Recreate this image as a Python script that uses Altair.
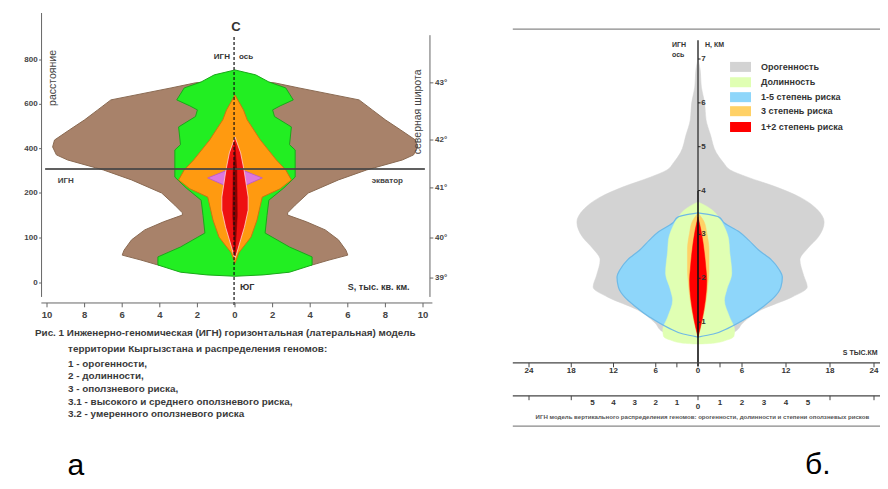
import altair as alt
import pandas as pd

FONT = "Liberation Sans"

# ---------------- Panel a: horizontal (lateral) model ----------------
# distance along axis (km) and half-width (thousand sq. km)
a_brown_d = [30, 33, 40, 51, 62, 73, 96, 118, 136, 151, 156, 173, 200, 259, 304, 349, 372, 408, 439, 485, 530, 575, 620, 647, 674, 697, 715]
a_brown_hw = [0, 3.0, 4.1, 5.0, 6.0, 5.9, 5.5, 4.8, 3.8, 2.8, 2.8, 3.2, 3.9, 5.5, 7.0, 8.9, 9.5, 9.7, 9.6, 8.8, 8.0, 7.3, 6.6, 5.0, 3.4, 2.1, 0]

a_green_d = [15, 18, 24, 40, 58, 80, 111, 150, 184, 223, 272, 394, 418, 498, 545, 575, 593, 620, 674, 701, 733, 755]
a_green_hw = [0, 1.5, 2.9, 4.1, 4.1, 2.9, 1.6, 1.7, 1.8, 2.6, 3.2, 3.2, 2.9, 3.0, 2.1, 2.0, 2.4, 3.1, 2.7, 1.8, 1.1, 0]

a_orange_d = [44, 67, 102, 140, 191, 219, 259, 304, 349, 439, 530, 575, 642]
a_orange_hw = [0, 0.2, 0.85, 1.17, 1.45, 2.4, 3.0, 2.7, 2.2, 1.35, 0.65, 0.45, 0]

a_pink_d = [214, 268, 317]
a_pink_hw = [0, 1.45, 0]

a_red_d = [56, 67, 96, 124, 162, 191, 304, 381, 453]
a_red_hw = [0, 0.1, 0.3, 0.5, 0.7, 0.7, 0.48, 0.3, 0]

a_core_d = [60, 150, 300, 420]
a_core_hw = [0, 0.12, 0.1, 0]

a_left_vals = [800, 600, 400, 200, 100, 0]
a_bottom_vals = [-10, -8, -6, -4, -2, 0, 2, 4, 6, 8, 10]
a_lat_labels = ["43°", "42°", "41°", "40°", "39°"]
a_lat_pos = [697, 439, 223, 100, 11]

a_caption = [
    "Рис. 1 Инженерно-геномическая (ИГН) горизонтальная (латеральная) модель",
    "территории Кыргызстана и распределения геномов:",
    "1  - орогенности,",
    "2 -  долинности,",
    "3 - оползневого риска,",
    "3.1 - высокого и среднего оползневого риска,",
    "3.2 - умеренного оползневого риска",
]
a_caption_x = [-10.64, -8.88, -8.88, -8.88, -8.88, -8.88, -8.88]
a_caption_y = [-111, -147, -180, -207, -236, -264, -291]

# ---------------- Panel b: vertical model ----------------
b_gray_h = [0.75, 0.78, 0.98, 1.28, 1.57, 1.80, 2.07, 2.42, 2.69, 2.94, 3.28, 3.56, 3.85, 4.08, 4.31, 4.47, 4.63, 4.86, 5.27, 5.61, 6.0, 6.36, 6.75, 7.0]
b_gray_hw = [0, 5.0, 6.1, 8.6, 12.8, 14.9, 14.4, 13.9, 15.0, 16.4, 17.2, 16.3, 13.9, 10.7, 6.7, 4.4, 3.5, 2.5, 1.7, 1.1, 0.9, 0.46, 0.3, 0]

b_green_h = [0.50, 0.52, 0.59, 0.68, 0.82, 1.12, 1.50, 1.73, 2.12, 2.64, 2.87, 3.17, 3.40, 3.56, 3.65, 3.74]
b_green_hw = [0, 2.1, 3.9, 4.9, 5.0, 4.3, 3.6, 3.9, 4.6, 4.3, 4.2, 3.6, 2.8, 1.9, 1.1, 0]

b_blue_h = [0.66, 0.73, 0.87, 1.12, 1.37, 1.57, 1.80, 2.03, 2.19, 2.42, 2.64, 2.87, 3.06, 3.26, 3.40, 3.44, 3.49]
b_blue_hw = [0, 2.1, 4.2, 6.9, 9.0, 10.4, 11.3, 11.5, 11.1, 10.0, 8.3, 6.9, 5.6, 3.6, 2.8, 1.9, 0]

b_orange_h = [0.66, 1.05, 1.50, 1.96, 2.19, 2.64, 3.03, 3.30, 3.49]
b_orange_hw = [0, 0.6, 1.1, 1.4, 1.5, 1.5, 1.2, 0.8, 0]

b_red_h = [0.66, 1.05, 1.50, 1.96, 2.19, 2.80, 3.10, 3.40]
b_red_hw = [0, 0.55, 1.0, 1.2, 1.1, 0.7, 0.4, 0]

b_legend = ["Орогенность", "Долинность", "1-5 степень риска", "3 степень риска", "1+2 степень риска"]
b_legend_colors = ["#d3d3d3", "#e0ffb3", "#8ed6fa", "#ffd166", "#ff0000"]
b_legend_h = [6.82, 6.47, 6.13, 5.81, 5.45]

b_h_ticks = [1, 2, 3, 4, 5, 6, 7]
b_s_ticks = [-24, -18, -12, -6, 0, 6, 12, 18, 24]
b_s_minor = [-3, 3]
b_r_labels = ["5", "4", "3", "2", "1", "0", "1", "2", "3", "4", "5"]
b_r_pos = [-15, -12, -9, -6, -3, 0, 3, 6, 9, 12, 15]
b_r_y = [-0.84] * 5 + [-0.93] + [-0.84] * 5
b_r_ticks = [-24, -18, 0, 18, 24]

# ---------------- scales ----------------
xA = alt.Scale(domain=[-10, 10], range=[39, 415], nice=False, zero=False)
yA = alt.Scale(domain=[0, 200, 800], range=[275, 185, 52], nice=False, zero=False)
xB = alt.Scale(domain=[-24, 0, 24], range=[521, 690, 866], nice=False, zero=False)
yB = alt.Scale(domain=[0, 7], range=[358, 51], nice=False, zero=False)


def sym(ys, hw):
    return pd.DataFrame({"y": ys, "lo": [-v for v in hw], "hi": hw})


def area(df, sx, sy, fill, stroke, interp="linear", sw=1.0, fo=1.0):
    return alt.Chart(df).mark_area(
        orient="horizontal", interpolate=interp, fill=fill, stroke=stroke,
        strokeWidth=sw, fillOpacity=fo
    ).encode(
        y=alt.Y("y:Q", scale=sy, axis=None),
        x=alt.X("lo:Q", scale=sx, axis=None),
        x2="hi:Q",
    )


def rules(x1, x2, y1, y2, sx, sy, color, sw=1.0, dash=None, opacity=1.0):
    df = pd.DataFrame({"x1": x1, "x2": x2, "y1": y1, "y2": y2})
    kw = dict(color=color, strokeWidth=sw, opacity=opacity)
    if dash:
        kw["strokeDash"] = dash
    return alt.Chart(df).mark_rule(**kw).encode(
        x=alt.X("x1:Q", scale=sx, axis=None), x2="x2:Q",
        y=alt.Y("y1:Q", scale=sy, axis=None), y2="y2:Q",
    )


def texts(xs, ys, ts, sx, sy, size, align="center", weight="normal", color="#333",
          angle=0, baseline="middle"):
    df = pd.DataFrame({"x": xs, "y": ys, "t": ts})
    kw = dict(fontSize=size, align=align, fontWeight=weight, color=color, font=FONT,
              baseline=baseline)
    if angle:
        kw["angle"] = angle
    return alt.Chart(df).mark_text(**kw).encode(
        x=alt.X("x:Q", scale=sx, axis=None),
        y=alt.Y("y:Q", scale=sy, axis=None),
        text="t:N",
    )


# ---------------- panel a layers ----------------
layersA = [
    area(sym(a_brown_d, a_brown_hw), xA, yA, "#a8826a", "#8a6a52"),
    area(sym(a_green_d, a_green_hw), xA, yA, "#22ee22", "#1aa81a"),
    area(sym(a_orange_d, a_orange_hw), xA, yA, "#ff9a10", "#c87810"),
    area(sym(a_pink_d, a_pink_hw), xA, yA, "#dd77dd", "#c060c0"),
    area(sym(a_red_d, a_red_hw), xA, yA, "#ee1111", "#ffd0d0", sw=0.8),
    area(sym(a_core_d, a_core_hw), xA, yA, "#880000", "#880000", sw=0.5),
    # equator line
    rules([-10.1], [10.1], [308], [308], xA, yA, "#444", sw=2, opacity=0.85),
    # dashed IGN axis
    rules([-0.05], [-0.05], [904], [-49], xA, yA, "#111", sw=1.2, dash=[3, 2]),
    # left axis
    rules([-10.29], [-10.29], [1012], [-31], xA, yA, "#666"),
    rules([-10.42] * 6, [-10.29] * 6, a_left_vals, a_left_vals, xA, yA, "#666"),
    texts([-10.5] * 6, a_left_vals, [str(v) for v in a_left_vals], xA, yA, 8,
          align="right", weight="bold", color="#444"),
    # bottom axis
    rules([-10.3], [10.5], [-44.4], [-44.4], xA, yA, "#666"),
    rules(a_bottom_vals, a_bottom_vals, [-44.4] * 11, [-54] * 11, xA, yA, "#666"),
    texts(a_bottom_vals, [-71] * 11, [str(abs(v)) for v in a_bottom_vals], xA, yA, 9.5,
          weight="bold", color="#444"),
    # right latitude axis
    rules([10.37], [10.37], [912], [-31], xA, yA, "#666"),
    rules([10.37] * 5, [10.55] * 5, a_lat_pos, a_lat_pos, xA, yA, "#666"),
    texts([10.64] * 5, a_lat_pos, a_lat_labels, xA, yA, 8, align="left", weight="bold",
          color="#444"),
    # axis titles and labels
    texts([-9.68], [719], ["расстояние"], xA, yA, 10.5, angle=270, color="#444"),
    texts([9.73], [566], ["северная широта"], xA, yA, 10.5, angle=270, color="#444"),
    texts([0.05], [949], ["С"], xA, yA, 13, weight="bold", color="#333"),
    texts([-0.27], [814], ["ИГН"], xA, yA, 8, align="right", weight="bold", color="#333"),
    texts([0.21], [814], ["ось"], xA, yA, 8, align="left", weight="bold", color="#333"),
    texts([0.27], [-9], ["ЮГ"], xA, yA, 9, align="left", weight="bold", color="#333"),
    texts([6.0], [-9], ["S, тыс. кв. км."], xA, yA, 9, align="left", weight="bold", color="#333"),
    texts([-9.0, 8.1], [254, 254], ["ИГН", "экватор"], xA, yA, 8, weight="bold", color="#444"),
    texts(a_caption_x, a_caption_y, a_caption, xA, yA, 9.9, align="left", weight="bold",
          color="#3a3a3a"),
    texts([-8.46], [-439], ["а"], xA, yA, 30, color="#000", baseline="bottom"),
]

# ---------------- panel b layers ----------------
layersB = [
    rules([-26.3], [26.3], [7.68], [7.68], xB, yB, "#888", sw=1.2),
    area(sym(b_gray_h, b_gray_hw), xB, yB, "#d3d3d3", "#d3d3d3", interp="monotone", sw=0.5),
    area(sym(b_blue_h, b_blue_hw), xB, yB, "#8ed6fa", "#8ed6fa", interp="monotone", sw=0.5),
    area(sym(b_green_h, b_green_hw), xB, yB, "#e0ffb3", "#e0ffb3", interp="monotone", sw=0.5),
    area(sym(b_blue_h, b_blue_hw), xB, yB, "#8ed6fa", "#6fb9e6", interp="monotone", sw=1.2, fo=0),
    area(sym(b_orange_h, b_orange_hw), xB, yB, "#ffd166", "#ffd166", interp="monotone", sw=0.5),
    area(sym(b_red_h, b_red_hw), xB, yB, "#ff0000", "#ff0000", interp="monotone", sw=0.5),
    # H axis
    rules([0], [0], [4.0], [7.43], xB, yB, "#6a6a6a", sw=2),
    rules([0], [0], [0], [4.0], xB, yB, "#111", sw=1.6),
    rules([0] * 7, [0.35] * 7, b_h_ticks, b_h_ticks, xB, yB, "#222"),
    texts([0.45] * 7, b_h_ticks, [str(v) for v in b_h_ticks], xB, yB, 8, align="left",
          weight="bold", color="#333"),
    texts([-3.7, -3.7], [7.32, 7.09], ["ИГН", "ось"], xB, yB, 7, align="left", weight="bold",
          color="#333"),
    texts([0.95], [7.32], ["Н, КМ"], xB, yB, 7, align="left", weight="bold", color="#333"),
    # legend
    alt.Chart(pd.DataFrame({"lab": b_legend, "col": b_legend_colors, "h": b_legend_h,
                            "x1": [4.37] * 5, "x2": [7.23] * 5})).mark_rect().encode(
        x=alt.X("x1:Q", scale=xB, axis=None), x2="x2:Q",
        y=alt.Y("y1:Q", scale=yB, axis=None), y2="y2:Q",
        color=alt.Color("col:N", scale=None),
    ).transform_calculate(y1="datum.h - 0.114", y2="datum.h + 0.114"),
    texts([8.6] * 5, b_legend_h, b_legend, xB, yB, 9, align="left", weight="bold", color="#333"),
    # S axis
    rules([-26.3], [26.3], [0.07], [0.07], xB, yB, "#444", sw=1.2),
    rules(b_s_ticks + b_s_minor, b_s_ticks + b_s_minor, [0.07] * 11, [-0.03] * 11, xB, yB, "#444"),
    texts(b_s_ticks, [-0.11] * 9, [str(abs(v)) for v in b_s_ticks], xB, yB, 8, weight="bold",
          color="#333"),
    texts([24.5], [0.30], ["S ТЫС.КМ"], xB, yB, 7, align="right", weight="bold", color="#333"),
    # second scale
    rules([-26.3], [26.3], [-0.68], [-0.68], xB, yB, "#444", sw=1.2),
    rules(b_r_ticks, b_r_ticks, [-0.68] * 5, [-0.78] * 5, xB, yB, "#444"),
    texts(b_r_pos, b_r_y, b_r_labels, xB, yB, 8, weight="bold", color="#333"),
    texts([0.6], [-1.16],
          ["ИГН модель вертикального распределения геномов: орогенности, долинности и степени оползневых рисков"],
          xB, yB, 6.1, weight="bold", color="#555"),
    rules([-26.3], [26.3], [-1.37], [-1.37], xB, yB, "#888", sw=1.2),
    texts([14.6], [-2.61], ["б."], xB, yB, 30, align="left", color="#000", baseline="bottom"),
]

panelA = alt.layer(*layersA)
panelB = alt.layer(*layersB)

chart = alt.layer(panelA, panelB).resolve_scale(
    x="independent", y="independent", color="independent"
).properties(
    width=872, height=473, padding=0,
    autosize=alt.AutoSizeParams(type="none"),
    background="white",
).configure_view(stroke=None)

chart.save("out.html", embed_options={"renderer": "svg", "actions": False})
